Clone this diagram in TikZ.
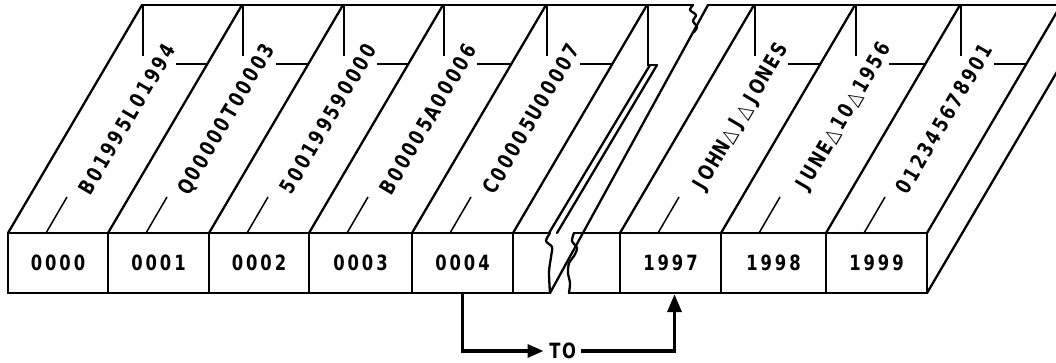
\documentclass[tikz,border=0pt]{standalone}
\usepackage{fontspec}
\usepackage{graphicx}
\usetikzlibrary{arrows.meta}
\newfontfamily\lettfont{DejaVu Sans}
\newcommand\tri{{\mdseries △}}
\def\slotseq#1{\ifx#1\relax\else\makebox[14.3pt]{\scalebox{0.78}[1]{#1}}\expandafter\slotseq\fi}
\newcommand\lett[1]{{\lettfont\bfseries\fontsize{21}{22}\selectfont\expandafter\slotseq#1\relax}}
\tikzset{
  edge/.style={line width=2.3pt, line cap=round, line join=round},
  fieldmark/.style={line width=1.5pt},
  cell/.style={draw, line width=2.3pt, minimum height=60pt, inner sep=0pt},
  rec/.style={rotate=59.6, inner sep=0pt},
  flow/.style={line width=3.4pt, -{Triangle[length=16pt,width=13pt]}},
}
\begin{document}
\begin{tikzpicture}[x=1pt,y=-1pt]
\useasboundingbox (0,0) rectangle (1056,362);
% front cells
\node[cell, minimum width=100pt] (c0) at (58,263) {\lett{0000}};
\node[cell, minimum width=101pt] (c1) at (158.5,263) {\lett{0001}};
\node[cell, minimum width=100pt] (c2) at (259,263) {\lett{0002}};
\node[cell, minimum width=103pt] (c3) at (360.5,263) {\lett{0003}};
\node[cell, minimum width=101pt] (c4) at (462.5,263) {\lett{0004}};
\node[cell, minimum width=101pt] (c97) at (670.5,263) {\lett{1997}};
\node[cell, minimum width=105pt] (c98) at (773.5,263) {\lett{1998}};
\node[cell, minimum width=101pt] (c99) at (876.5,263) {\lett{1999}};
% broken cell, left piece
\draw[edge] (513,233) -- (550,233);
\draw[edge] (513,293) -- (550,293);
\draw[edge] plot[smooth] coordinates {(550,233) (546,241) (552,247) (551,257) (549,272) (550,293)};
% broken cell, right piece
\draw[edge] (620,233) -- (574,233);
\draw[edge] (620,293) -- (569,293);
\draw[edge] plot[smooth] coordinates {(574,233) (572,241) (577,248) (574,256) (569,263) (568,273) (570,283) (569,293)};
% slanted record boundaries on the top face
\foreach \x in {8,108,209,309,412,513,620,721,826,927}
  \draw[edge] (\x,233) -- ++(134,-228);
% right side face
\draw[edge] (927,293) -- ++(134,-228) -- ++(0,-60);
% back top edge
\draw[edge] (142,5) -- (693,5);
\draw[edge] plot[smooth] coordinates {(693,5) (690,10) (696,15) (693,21) (697,27) (694,32)};
\draw[edge] (708,5) -- (1070,5);
% break: cut edge and thin strip
\draw[edge] (550,293) -- (708,5);
\draw[edge] (549,233) -- (650,65);
\draw[edge] (557,233) -- (657,65);
\draw[fieldmark] (648,5) -- (648,65) -- (657,65);
% field marks
\foreach \x in {8,108,209,309,412,620,721,826}
  \draw[fieldmark] (\x+135,5) -- (\x+135,56);
\foreach \a/\b in {8/108,108/209,209/309,309/412,412/513,620/721,721/826,826/927}
  \draw[fieldmark] (\a+168,64) -- (\b+99.4,64);
\foreach \a in {8,108,209,309,412,620,721,826}
  \draw[fieldmark] (\a+38,233) -- ++(21,-36);
% record contents
\node[rec] (r0) at (127,119) {\lett{B01995L01994}};
\node[rec] (r1) at (227,119) {\lett{Q00000T00003}};
\node[rec] (r2) at (328,119) {\lett{500199590000}};
\node[rec] (r3) at (428,119) {\lett{B00005A00006}};
\node[rec] (r4) at (531,119) {\lett{C00005U00007}};
\node[rec] (r97) at (741,118) {\lett{JOHN\tri J\tri JONES}};
\node[rec] (r98) at (844,118) {\lett{JUNE\tri 10\tri 1956}};
\node[rec] (r99) at (944,119) {\lett{012345678901}};
% transfer arrow
\node[inner sep=4pt] (to) at (562,351) {\lett{TO}};
\draw[flow] (c4.south) |- (to.west);
\draw[flow, -{Triangle[length=18pt,width=14pt]}] (to.east) -| ([xshift=4pt]c97.south);
\end{tikzpicture}
\end{document}
